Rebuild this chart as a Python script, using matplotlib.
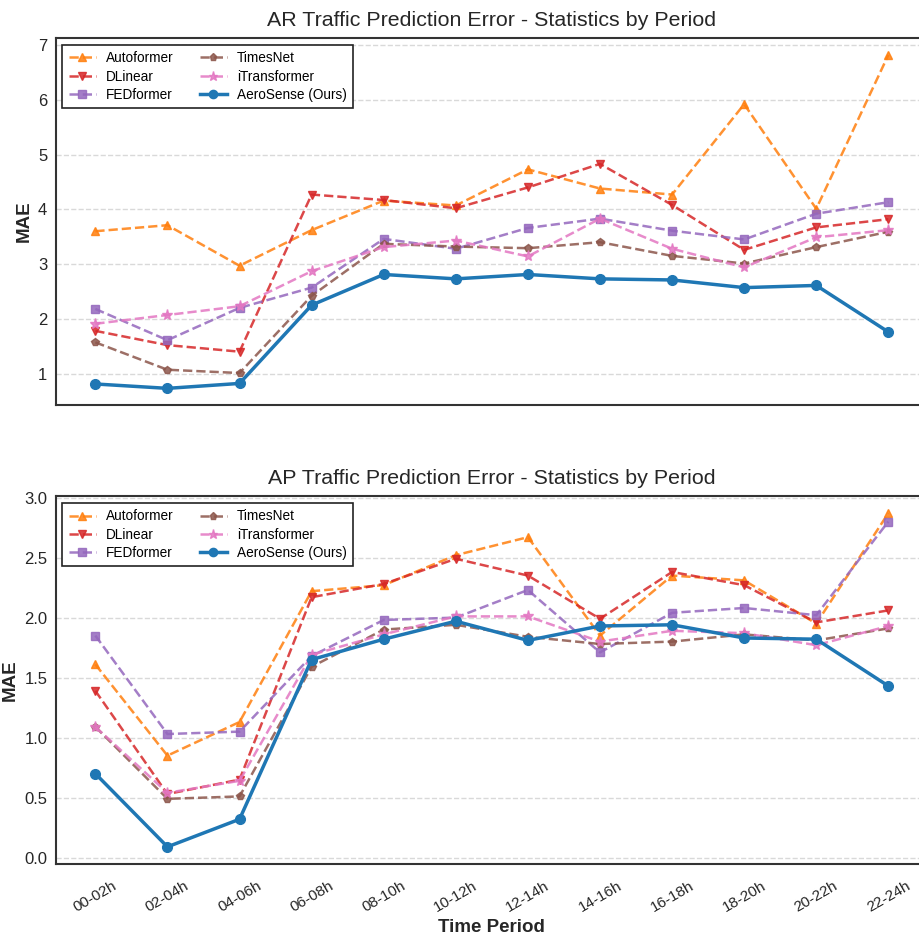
import matplotlib
matplotlib.use("Agg")
import matplotlib.pyplot as plt
import numpy as np

plt.rcParams['font.family'] = ['Liberation Sans', 'DejaVu Sans']

# time slots
periods = ["00-02h", "02-04h", "04-06h", "06-08h", "08-10h", "10-12h",
           "12-14h", "14-16h", "16-18h", "18-20h", "20-22h", "22-24h"]

# arrival (AR) MAE per model
ar_autoformer = [3.60, 3.71, 2.97, 3.62, 4.16, 4.07, 4.73, 4.38, 4.27, 5.92, 4.01, 6.82]
ar_dlinear = [1.78, 1.52, 1.40, 4.27, 4.17, 4.02, 4.40, 4.83, 4.08, 3.26, 3.67, 3.82]
ar_fedformer = [2.18, 1.61, 2.20, 2.57, 3.46, 3.28, 3.66, 3.83, 3.61, 3.45, 3.92, 4.13]
ar_timesnet = [1.57, 1.07, 1.01, 2.42, 3.37, 3.32, 3.29, 3.40, 3.15, 3.01, 3.31, 3.59]
ar_itransformer = [1.91, 2.07, 2.23, 2.87, 3.31, 3.43, 3.14, 3.83, 3.28, 2.94, 3.49, 3.62]
ar_aerosense = [0.81, 0.73, 0.82, 2.25, 2.81, 2.73, 2.81, 2.73, 2.71, 2.57, 2.61, 1.76]

# approach (AP) MAE per model
ap_autoformer = [1.61, 0.85, 1.13, 2.22, 2.27, 2.52, 2.67, 1.85, 2.35, 2.31, 1.95, 2.87]
ap_dlinear = [1.39, 0.53, 0.65, 2.17, 2.28, 2.49, 2.35, 1.99, 2.38, 2.27, 1.96, 2.06]
ap_fedformer = [1.85, 1.03, 1.05, 1.68, 1.98, 2.00, 2.23, 1.71, 2.04, 2.08, 2.02, 2.80]
ap_timesnet = [1.09, 0.49, 0.51, 1.59, 1.90, 1.94, 1.84, 1.78, 1.80, 1.86, 1.81, 1.91]
ap_itransformer = [1.09, 0.54, 0.64, 1.69, 1.86, 2.01, 2.01, 1.80, 1.89, 1.87, 1.77, 1.93]
ap_aerosense = [0.70, 0.09, 0.32, 1.65, 1.82, 1.97, 1.81, 1.93, 1.94, 1.83, 1.82, 1.43]

models = ["Autoformer", "DLinear", "FEDformer", "TimesNet", "iTransformer", "AeroSense (Ours)"]
colors = ["#ff7f0e", "#d62728", "#9467bd", "#8c564b", "#e377c2", "#1f77b4"]
markers = ["^", "v", "s", "p", "*", "o"]

ar_data = [ar_autoformer, ar_dlinear, ar_fedformer, ar_timesnet, ar_itransformer, ar_aerosense]
ap_data = [ap_autoformer, ap_dlinear, ap_fedformer, ap_timesnet, ap_itransformer, ap_aerosense]

fig = plt.figure(figsize=(9.19, 9.38), dpi=100)
ax_top = fig.add_axes([0.0606, 0.5682, 0.9492, 0.3910])
ax_bot = fig.add_axes([0.0606, 0.0794, 0.9492, 0.3913])

x = np.arange(len(periods))


def draw(ax, data, title):
    for vals, name, c, m in zip(data, models, colors, markers):
        if name.startswith("AeroSense"):
            ax.plot(x, vals, color=c, marker=m, linestyle='-', linewidth=2.5,
                    markersize=7, label=name, zorder=5)
        else:
            ms = 8 if m == "*" else 6
            ax.plot(x, vals, color=c, marker=m, linestyle='--', linewidth=1.8,
                    markersize=ms, alpha=0.85, label=name, zorder=3)
    ax.set_title(title, fontsize=15.4, pad=9, color="#262626")
    ax.set_ylabel("MAE", fontsize=13.5, fontweight='bold', color="#262626")
    ax.grid(axis='y', linestyle='--', color='#d9d9d9', linewidth=1)
    ax.grid(axis='x', visible=False)
    ax.set_axisbelow(True)
    ax.tick_params(axis='both', length=0, labelsize=12, colors="#262626", pad=6)
    for s in ax.spines.values():
        s.set_color("#333333")
        s.set_linewidth(1.5)
    leg = ax.legend(loc='upper left', ncol=2, fontsize=9.8, fancybox=False,
                    edgecolor='#222222', framealpha=1, handlelength=2.0,
                    handletextpad=0.75, columnspacing=1.9, borderpad=0.45,
                    labelspacing=0.32, borderaxespad=0.5, markerscale=0.85)
    leg.get_frame().set_linewidth(1.2)
    ax.set_xticks(x)


draw(ax_top, ar_data, "AR Traffic Prediction Error - Statistics by Period")
draw(ax_bot, ap_data, "AP Traffic Prediction Error - Statistics by Period")

ax_top.set_xticklabels([])
ax_bot.set_xticklabels(periods, rotation=30)
ax_bot.tick_params(axis='x', labelsize=11, pad=11)
ax_bot.set_xlabel("Time Period", fontsize=13.5, fontweight='bold', color="#262626",
                  labelpad=3)
ax_bot.set_yticks(np.arange(0, 3.01, 0.5))

fig.savefig("out.png", dpi=100)
